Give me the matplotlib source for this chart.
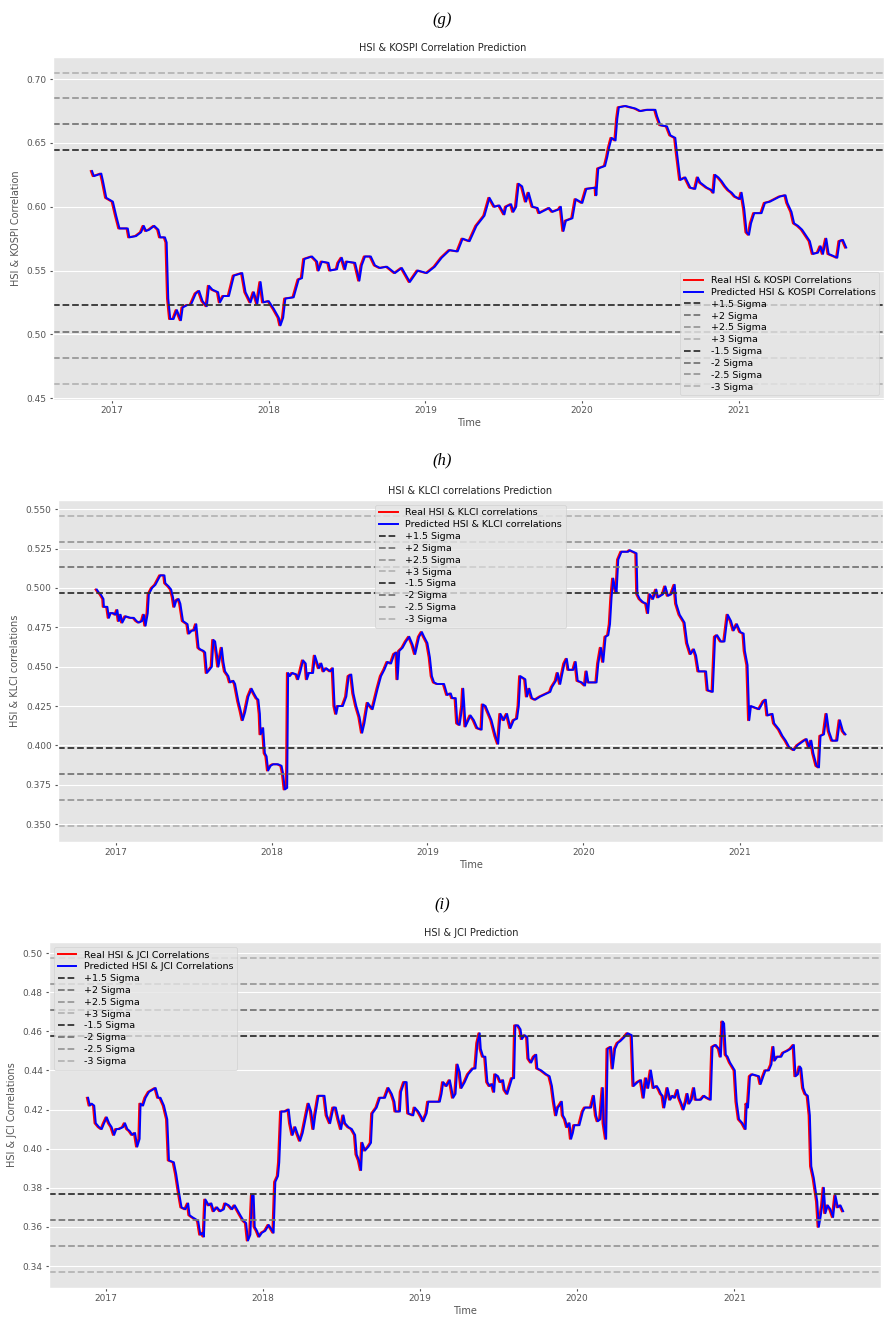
import numpy as np
import pandas as pd
import matplotlib
matplotlib.use('Agg')
import matplotlib.pyplot as plt
from matplotlib.ticker import MultipleLocator
import matplotlib.dates as mdates

plt.style.use('ggplot')

# ---- HSI & KOSPI (decimal year, correlation) ----
kospi_t = [2016.865, 2016.877, 2016.924, 2016.935, 2016.956, 2016.998, 2017.019, 2017.040, 2017.093, 2017.103,
           2017.146, 2017.178, 2017.195, 2017.210, 2017.230, 2017.262, 2017.288, 2017.300, 2017.330, 2017.341,
           2017.351, 2017.364, 2017.385, 2017.406, 2017.432, 2017.443, 2017.474, 2017.495, 2017.527, 2017.548,
           2017.570, 2017.597, 2017.611, 2017.633, 2017.669, 2017.681, 2017.703, 2017.738, 2017.770, 2017.823,
           2017.844, 2017.876, 2017.897, 2017.919, 2017.940, 2017.957, 2017.992, 2018.024, 2018.056, 2018.067,
           2018.084, 2018.098, 2018.151, 2018.183, 2018.204, 2018.219, 2018.268, 2018.300, 2018.310, 2018.331,
           2018.373, 2018.384, 2018.427, 2018.437, 2018.458, 2018.479, 2018.490, 2018.543, 2018.570, 2018.585,
           2018.606, 2018.643, 2018.670, 2018.702, 2018.746, 2018.797, 2018.841, 2018.892, 2018.943, 2019.000,
           2019.051, 2019.095, 2019.146, 2019.197, 2019.229, 2019.273, 2019.317, 2019.368, 2019.400, 2019.432,
           2019.463, 2019.495, 2019.506, 2019.538, 2019.552, 2019.570, 2019.586, 2019.608, 2019.633, 2019.650,
           2019.675, 2019.707, 2019.718, 2019.781, 2019.802, 2019.844, 2019.855, 2019.872, 2019.887, 2019.929,
           2019.950, 2019.992, 2020.018, 2020.078, 2020.081, 2020.094, 2020.137, 2020.151, 2020.162, 2020.179,
           2020.204, 2020.215, 2020.225, 2020.268, 2020.331, 2020.363, 2020.405, 2020.458, 2020.469, 2020.490,
           2020.532, 2020.554, 2020.585, 2020.596, 2020.617, 2020.649, 2020.681, 2020.712, 2020.729, 2020.744,
           2020.786, 2020.818, 2020.829, 2020.839, 2020.860, 2020.881, 2020.903, 2020.924, 2020.945, 2020.966,
           2020.998, 2021.008, 2021.025, 2021.040, 2021.055, 2021.068, 2021.089, 2021.135, 2021.157, 2021.189,
           2021.220, 2021.252, 2021.288, 2021.300, 2021.326, 2021.343, 2021.368, 2021.394, 2021.421, 2021.443,
           2021.463, 2021.495, 2021.512, 2021.527, 2021.548, 2021.563, 2021.601, 2021.618, 2021.633, 2021.654,
           2021.675]
kospi_v = [0.628, 0.624, 0.626, 0.620, 0.607, 0.604, 0.593, 0.583, 0.583, 0.576,
           0.577, 0.580, 0.585, 0.581, 0.582, 0.585, 0.582, 0.576, 0.576, 0.572,
           0.528, 0.512, 0.512, 0.519, 0.511, 0.521, 0.523, 0.523, 0.532, 0.534,
           0.526, 0.522, 0.538, 0.535, 0.533, 0.525, 0.530, 0.530, 0.546, 0.548,
           0.533, 0.525, 0.533, 0.524, 0.541, 0.525, 0.526, 0.520, 0.513, 0.507,
           0.513, 0.528, 0.529, 0.543, 0.544, 0.559, 0.561, 0.557, 0.550, 0.557,
           0.556, 0.550, 0.551, 0.556, 0.560, 0.551, 0.557, 0.556, 0.542, 0.554,
           0.561, 0.561, 0.554, 0.552, 0.553, 0.548, 0.552, 0.541, 0.550, 0.548,
           0.553, 0.560, 0.566, 0.565, 0.575, 0.573, 0.585, 0.593, 0.607, 0.600,
           0.601, 0.594, 0.600, 0.602, 0.596, 0.600, 0.618, 0.616, 0.604, 0.611,
           0.600, 0.599, 0.595, 0.599, 0.596, 0.598, 0.600, 0.581, 0.589, 0.591,
           0.606, 0.603, 0.614, 0.615, 0.609, 0.630, 0.632, 0.639, 0.646, 0.654,
           0.652, 0.669, 0.678, 0.679, 0.677, 0.675, 0.676, 0.676, 0.671, 0.664,
           0.663, 0.656, 0.654, 0.642, 0.621, 0.623, 0.615, 0.614, 0.623, 0.619,
           0.615, 0.613, 0.611, 0.625, 0.623, 0.620, 0.616, 0.613, 0.611, 0.608,
           0.606, 0.611, 0.598, 0.580, 0.578, 0.587, 0.595, 0.595, 0.603, 0.604,
           0.606, 0.608, 0.609, 0.603, 0.596, 0.587, 0.585, 0.582, 0.577, 0.573,
           0.563, 0.564, 0.569, 0.563, 0.575, 0.563, 0.561, 0.560, 0.573, 0.574,
           0.568]
kospi_sigma = [0.6445, 0.6646, 0.6850, 0.7052, 0.5227, 0.5021, 0.4815, 0.4607]

# ---- HSI & KLCI ----
klci_t = [2016.870, 2016.884, 2016.895, 2016.913, 2016.916, 2016.938, 2016.948, 2016.959, 2016.976, 2016.991,
          2017.002, 2017.012, 2017.023, 2017.034, 2017.055, 2017.087, 2017.108, 2017.125, 2017.140, 2017.161,
          2017.172, 2017.183, 2017.197, 2017.204, 2017.225, 2017.246, 2017.267, 2017.278, 2017.304, 2017.310,
          2017.331, 2017.347, 2017.359, 2017.368, 2017.380, 2017.395, 2017.406, 2017.423, 2017.438, 2017.452,
          2017.461, 2017.481, 2017.495, 2017.508, 2017.523, 2017.534, 2017.555, 2017.565, 2017.576, 2017.593,
          2017.608, 2017.618, 2017.629, 2017.640, 2017.650, 2017.661, 2017.672, 2017.682, 2017.693, 2017.714,
          2017.725, 2017.746, 2017.757, 2017.778, 2017.793, 2017.806, 2017.821, 2017.842, 2017.863, 2017.878,
          2017.895, 2017.906, 2017.916, 2017.921, 2017.937, 2017.948, 2017.959, 2017.969, 2017.985, 2018.001,
          2018.033, 2018.055, 2018.065, 2018.076, 2018.091, 2018.097, 2018.108, 2018.125, 2018.151, 2018.161,
          2018.176, 2018.193, 2018.210, 2018.218, 2018.231, 2018.257, 2018.269, 2018.282, 2018.295, 2018.310,
          2018.325, 2018.342, 2018.368, 2018.384, 2018.395, 2018.406, 2018.416, 2018.448, 2018.470, 2018.486,
          2018.502, 2018.516, 2018.534, 2018.555, 2018.572, 2018.586, 2018.608, 2018.623, 2018.639, 2018.671,
          2018.693, 2018.714, 2018.735, 2018.757, 2018.778, 2018.793, 2018.799, 2018.810, 2018.831, 2018.853,
          2018.874, 2018.895, 2018.912, 2018.937, 2018.955, 2018.969, 2018.990, 2019.006, 2019.019, 2019.033,
          2019.054, 2019.097, 2019.118, 2019.140, 2019.150, 2019.172, 2019.182, 2019.197, 2019.214, 2019.220,
          2019.235, 2019.267, 2019.288, 2019.310, 2019.338, 2019.346, 2019.363, 2019.384, 2019.401, 2019.427,
          2019.444, 2019.459, 2019.480, 2019.501, 2019.523, 2019.544, 2019.565, 2019.576, 2019.586, 2019.618,
          2019.629, 2019.644, 2019.661, 2019.682, 2019.714, 2019.756, 2019.778, 2019.789, 2019.814, 2019.826,
          2019.842, 2019.852, 2019.869, 2019.884, 2019.895, 2019.927, 2019.941, 2019.954, 2019.980, 2020.001,
          2020.011, 2020.022, 2020.075, 2020.086, 2020.103, 2020.118, 2020.133, 2020.150, 2020.161, 2020.171,
          2020.182, 2020.193, 2020.203, 2020.214, 2020.235, 2020.278, 2020.288, 2020.310, 2020.331, 2020.337,
          2020.352, 2020.373, 2020.394, 2020.405, 2020.416, 2020.437, 2020.458, 2020.469, 2020.501, 2020.516,
          2020.533, 2020.554, 2020.576, 2020.586, 2020.608, 2020.639, 2020.656, 2020.678, 2020.699, 2020.713,
          2020.729, 2020.777, 2020.788, 2020.820, 2020.835, 2020.848, 2020.873, 2020.895, 2020.916, 2020.937,
          2020.954, 2020.975, 2020.997, 2021.018, 2021.026, 2021.043, 2021.054, 2021.065, 2021.118, 2021.146,
          2021.160, 2021.171, 2021.203, 2021.214, 2021.246, 2021.267, 2021.288, 2021.310, 2021.341, 2021.363,
          2021.405, 2021.422, 2021.437, 2021.452, 2021.465, 2021.486, 2021.501, 2021.511, 2021.533, 2021.550,
          2021.565, 2021.586, 2021.618, 2021.635, 2021.655, 2021.671]
klci_v = [0.499, 0.497, 0.496, 0.493, 0.488, 0.488, 0.481, 0.484, 0.484, 0.483,
          0.486, 0.479, 0.483, 0.478, 0.482, 0.481, 0.481, 0.479, 0.478, 0.479,
          0.483, 0.476, 0.484, 0.496, 0.500, 0.502, 0.506, 0.508, 0.508, 0.503,
          0.501, 0.499, 0.494, 0.488, 0.492, 0.493, 0.490, 0.479, 0.478, 0.477,
          0.471, 0.473, 0.473, 0.477, 0.462, 0.461, 0.460, 0.459, 0.446, 0.448,
          0.450, 0.467, 0.466, 0.458, 0.450, 0.456, 0.462, 0.453, 0.447, 0.444,
          0.440, 0.441, 0.439, 0.428, 0.422, 0.416, 0.421, 0.431, 0.436, 0.433,
          0.430, 0.429, 0.420, 0.407, 0.411, 0.395, 0.393, 0.384, 0.387, 0.388,
          0.388, 0.387, 0.382, 0.372, 0.373, 0.446, 0.444, 0.446, 0.445, 0.442,
          0.447, 0.454, 0.452, 0.442, 0.446, 0.446, 0.457, 0.453, 0.449, 0.452,
          0.447, 0.449, 0.447, 0.449, 0.425, 0.420, 0.425, 0.425, 0.431, 0.444,
          0.445, 0.433, 0.425, 0.418, 0.408, 0.414, 0.427, 0.425, 0.423, 0.436,
          0.444, 0.448, 0.453, 0.452, 0.458, 0.459, 0.442, 0.460, 0.462, 0.466,
          0.469, 0.464, 0.458, 0.469, 0.472, 0.469, 0.465, 0.456, 0.444, 0.440,
          0.439, 0.439, 0.432, 0.433, 0.430, 0.430, 0.414, 0.413, 0.425, 0.436,
          0.412, 0.419, 0.416, 0.411, 0.410, 0.426, 0.425, 0.420, 0.416, 0.406,
          0.401, 0.420, 0.416, 0.420, 0.411, 0.416, 0.417, 0.425, 0.444, 0.442,
          0.431, 0.436, 0.430, 0.429, 0.431, 0.433, 0.434, 0.437, 0.441, 0.446,
          0.439, 0.444, 0.452, 0.455, 0.448, 0.448, 0.453, 0.441, 0.440, 0.438,
          0.447, 0.440, 0.440, 0.452, 0.462, 0.453, 0.469, 0.470, 0.477, 0.494,
          0.506, 0.500, 0.497, 0.518, 0.523, 0.523, 0.524, 0.523, 0.522, 0.496,
          0.493, 0.491, 0.490, 0.484, 0.496, 0.493, 0.499, 0.494, 0.496, 0.501,
          0.495, 0.496, 0.502, 0.490, 0.483, 0.478, 0.465, 0.458, 0.461, 0.457,
          0.447, 0.447, 0.435, 0.434, 0.469, 0.470, 0.466, 0.466, 0.483, 0.479,
          0.473, 0.477, 0.472, 0.471, 0.460, 0.451, 0.416, 0.425, 0.423, 0.428,
          0.429, 0.419, 0.420, 0.414, 0.410, 0.406, 0.403, 0.399, 0.397, 0.400,
          0.403, 0.404, 0.399, 0.403, 0.395, 0.387, 0.386, 0.406, 0.407, 0.420,
          0.409, 0.403, 0.403, 0.416, 0.409, 0.407]
klci_sigma = [0.4966, 0.5131, 0.5293, 0.5460, 0.3981, 0.3817, 0.3652, 0.3485]

# ---- HSI & JCI ----
jci_t = [2016.877, 2016.888, 2016.900, 2016.916, 2016.926, 2016.947, 2016.964, 2016.979, 2016.996, 2017.011,
         2017.027, 2017.043, 2017.057, 2017.074, 2017.100, 2017.112, 2017.127, 2017.142, 2017.159, 2017.176,
         2017.190, 2017.205, 2017.211, 2017.227, 2017.243, 2017.265, 2017.286, 2017.307, 2017.324, 2017.338,
         2017.360, 2017.381, 2017.392, 2017.423, 2017.438, 2017.455, 2017.472, 2017.497, 2017.514, 2017.523,
         2017.540, 2017.561, 2017.578, 2017.592, 2017.608, 2017.614, 2017.624, 2017.646, 2017.662, 2017.677,
         2017.698, 2017.719, 2017.741, 2017.751, 2017.773, 2017.794, 2017.811, 2017.825, 2017.846, 2017.868,
         2017.883, 2017.895, 2017.910, 2017.921, 2017.931, 2017.938, 2017.952, 2017.967, 2017.984, 2018.005,
         2018.027, 2018.043, 2018.058, 2018.069, 2018.086, 2018.094, 2018.107, 2018.132, 2018.154, 2018.164,
         2018.179, 2018.196, 2018.213, 2018.227, 2018.243, 2018.263, 2018.281, 2018.297, 2018.312, 2018.323,
         2018.344, 2018.382, 2018.397, 2018.418, 2018.439, 2018.454, 2018.471, 2018.488, 2018.503, 2018.513,
         2018.535, 2018.556, 2018.577, 2018.587, 2018.602, 2018.615, 2018.623, 2018.640, 2018.662, 2018.678,
         2018.687, 2018.714, 2018.735, 2018.767, 2018.789, 2018.810, 2018.827, 2018.835, 2018.862, 2018.869,
         2018.890, 2018.905, 2018.916, 2018.947, 2018.957, 2018.979, 2019.000, 2019.011, 2019.032, 2019.043,
         2019.084, 2019.116, 2019.127, 2019.138, 2019.159, 2019.180, 2019.190, 2019.201, 2019.216, 2019.229,
         2019.243, 2019.254, 2019.275, 2019.297, 2019.328, 2019.343, 2019.356, 2019.370, 2019.377, 2019.392,
         2019.406, 2019.419, 2019.434, 2019.449, 2019.462, 2019.470, 2019.487, 2019.503, 2019.519, 2019.529,
         2019.546, 2019.561, 2019.576, 2019.589, 2019.597, 2019.614, 2019.630, 2019.639, 2019.656, 2019.673,
         2019.681, 2019.698, 2019.716, 2019.730, 2019.737, 2019.762, 2019.794, 2019.815, 2019.830, 2019.843,
         2019.857, 2019.868, 2019.878, 2019.893, 2019.900, 2019.914, 2019.927, 2019.942, 2019.952, 2019.963,
         2019.973, 2020.005, 2020.027, 2020.041, 2020.079, 2020.097, 2020.111, 2020.122, 2020.138, 2020.154,
         2020.160, 2020.175, 2020.185, 2020.206, 2020.217, 2020.232, 2020.249, 2020.266, 2020.291, 2020.312,
         2020.338, 2020.350, 2020.376, 2020.397, 2020.414, 2020.429, 2020.443, 2020.460, 2020.478, 2020.498,
         2020.513, 2020.524, 2020.535, 2020.545, 2020.556, 2020.566, 2020.583, 2020.598, 2020.613, 2020.630,
         2020.640, 2020.655, 2020.668, 2020.683, 2020.693, 2020.704, 2020.719, 2020.735, 2020.746, 2020.778,
         2020.799, 2020.816, 2020.841, 2020.852, 2020.873, 2020.894, 2020.905, 2020.916, 2020.926, 2020.937,
         2020.948, 2020.964, 2020.979, 2020.994, 2021.006, 2021.021, 2021.043, 2021.063, 2021.070, 2021.078,
         2021.091, 2021.106, 2021.148, 2021.159, 2021.176, 2021.190, 2021.211, 2021.227, 2021.240, 2021.248,
         2021.265, 2021.290, 2021.303, 2021.329, 2021.349, 2021.370, 2021.381, 2021.396, 2021.408, 2021.417,
         2021.430, 2021.444, 2021.459, 2021.472, 2021.481, 2021.497, 2021.508, 2021.519, 2021.529, 2021.540,
         2021.551, 2021.561, 2021.571, 2021.586, 2021.603, 2021.620, 2021.635, 2021.650, 2021.667, 2021.684]
jci_v = [0.426, 0.422, 0.423, 0.422, 0.413, 0.411, 0.410, 0.413, 0.416, 0.413,
         0.411, 0.407, 0.410, 0.410, 0.411, 0.413, 0.410, 0.409, 0.407, 0.408,
         0.401, 0.405, 0.423, 0.422, 0.426, 0.429, 0.430, 0.431, 0.426, 0.426,
         0.422, 0.415, 0.394, 0.393, 0.387, 0.378, 0.370, 0.369, 0.372, 0.366,
         0.365, 0.364, 0.363, 0.356, 0.357, 0.355, 0.374, 0.371, 0.372, 0.368,
         0.370, 0.368, 0.369, 0.372, 0.371, 0.369, 0.371, 0.369, 0.366, 0.363,
         0.362, 0.353, 0.356, 0.376, 0.376, 0.360, 0.358, 0.355, 0.357, 0.358,
         0.361, 0.359, 0.357, 0.383, 0.386, 0.393, 0.419, 0.419, 0.420, 0.413,
         0.407, 0.411, 0.407, 0.404, 0.408, 0.416, 0.423, 0.419, 0.410, 0.417,
         0.427, 0.427, 0.417, 0.413, 0.421, 0.421, 0.415, 0.410, 0.417, 0.413,
         0.411, 0.410, 0.407, 0.397, 0.394, 0.389, 0.403, 0.399, 0.401, 0.403,
         0.418, 0.421, 0.426, 0.426, 0.431, 0.428, 0.424, 0.419, 0.419, 0.429,
         0.434, 0.434, 0.418, 0.417, 0.421, 0.419, 0.416, 0.414, 0.418, 0.424,
         0.424, 0.424, 0.428, 0.434, 0.432, 0.435, 0.431, 0.426, 0.428, 0.443,
         0.439, 0.431, 0.434, 0.438, 0.441, 0.441, 0.454, 0.459, 0.451, 0.447,
         0.447, 0.434, 0.432, 0.433, 0.429, 0.438, 0.437, 0.434, 0.435, 0.430,
         0.428, 0.432, 0.436, 0.436, 0.463, 0.463, 0.461, 0.456, 0.458, 0.457,
         0.446, 0.444, 0.447, 0.448, 0.441, 0.440, 0.438, 0.437, 0.432, 0.424,
         0.417, 0.421, 0.422, 0.424, 0.417, 0.415, 0.411, 0.413, 0.405, 0.408,
         0.412, 0.412, 0.419, 0.421, 0.421, 0.427, 0.417, 0.414, 0.415, 0.431,
         0.413, 0.405, 0.451, 0.452, 0.441, 0.451, 0.454, 0.455, 0.457, 0.459,
         0.458, 0.432, 0.434, 0.435, 0.426, 0.436, 0.431, 0.440, 0.431, 0.432,
         0.430, 0.428, 0.427, 0.421, 0.426, 0.431, 0.425, 0.427, 0.426, 0.430,
         0.426, 0.423, 0.420, 0.424, 0.428, 0.423, 0.425, 0.431, 0.425, 0.425,
         0.427, 0.426, 0.425, 0.452, 0.453, 0.451, 0.447, 0.465, 0.464, 0.448,
         0.447, 0.444, 0.442, 0.440, 0.424, 0.415, 0.413, 0.410, 0.423, 0.421,
         0.437, 0.438, 0.437, 0.433, 0.437, 0.440, 0.440, 0.443, 0.452, 0.445,
         0.447, 0.447, 0.449, 0.450, 0.451, 0.453, 0.437, 0.438, 0.442, 0.441,
         0.431, 0.428, 0.427, 0.417, 0.391, 0.385, 0.379, 0.373, 0.360, 0.365,
         0.371, 0.380, 0.367, 0.371, 0.369, 0.365, 0.376, 0.370, 0.371, 0.368]
jci_sigma = [0.4574, 0.4708, 0.4842, 0.4976, 0.3770, 0.3636, 0.3501, 0.3368]

sigma_labels = ['+1.5 Sigma', '+2 Sigma', '+2.5 Sigma', '+3 Sigma',
                '-1.5 Sigma', '-2 Sigma', '-2.5 Sigma', '-3 Sigma']
sigma_colors = ['#333333', '#777777', '#999999', '#b5b5b5'] * 2
pred_lag = pd.Timedelta(days=3)  # prediction trails the real series by a few days

W, H = 884, 1317


def to_dates(years):
    years = np.asarray(years)
    return pd.Timestamp('2017-01-01') + pd.to_timedelta((years - 2017.0) * 365.25, unit='D')


def panel(rect, t, v, sig, name, title, ylabel, loc, ystep, title_x):
    ax = fig.add_axes(rect)
    d = to_dates(t)
    ax.plot(d, v, color='red', lw=1.4, label='Real ' + name)
    ax.plot(d + pred_lag, v, color='blue', lw=1.4, label='Predicted ' + name)
    for s, lab, c in zip(sig, sigma_labels, sigma_colors):
        ax.axhline(s, ls='--', color=c, lw=1.3, label=lab)
    ax.set_title(title, fontsize=7, pad=4, color='#222222', x=title_x)
    ax.set_xlabel('Time', fontsize=7, labelpad=2)
    ax.set_ylabel(ylabel, fontsize=7, labelpad=4)
    ax.tick_params(labelsize=6.5, length=2.5, pad=2)
    ax.grid(axis='x', visible=False)
    ax.yaxis.set_major_locator(MultipleLocator(ystep))
    ax.xaxis.set_major_locator(mdates.YearLocator())
    ax.xaxis.set_major_formatter(mdates.DateFormatter('%Y'))
    ax.legend(loc=loc, fontsize=6.8, labelspacing=0.3, borderpad=0.4,
              handlelength=2.0, framealpha=0.8)
    return ax


fig = plt.figure(figsize=(W / 100, H / 100), dpi=100)
fig.patch.set_facecolor('white')

panel([53 / W, 1 - 400 / H, 831 / W, 343 / H], kospi_t, kospi_v, kospi_sigma,
      'HSI & KOSPI Correlations', 'HSI & KOSPI Correlation Prediction',
      'HSI & KOSPI Correlation', 'lower right', 0.05, 0.469)
panel([58 / W, 1 - 842 / H, 825 / W, 342 / H], klci_t, klci_v, klci_sigma,
      'HSI & KLCI correlations', 'HSI & KLCI correlations Prediction',
      'HSI & KLCI correlations', 'upper center', 0.025, 0.5)
panel([49 / W, 1 - 1288 / H, 832 / W, 346 / H], jci_t, jci_v, jci_sigma,
      'HSI & JCI Correlations', 'HSI & JCI Prediction',
      'HSI & JCI Correlations', 'upper left', 0.02, 0.508)

for lab, y in [('(g)', 20), ('(h)', 460), ('(i)', 905)]:
    fig.text(0.5, 1 - y / H, lab, ha='center', va='center', fontsize=12,
             family='Liberation Serif', style='italic')

fig.savefig('out.png', dpi=100)
